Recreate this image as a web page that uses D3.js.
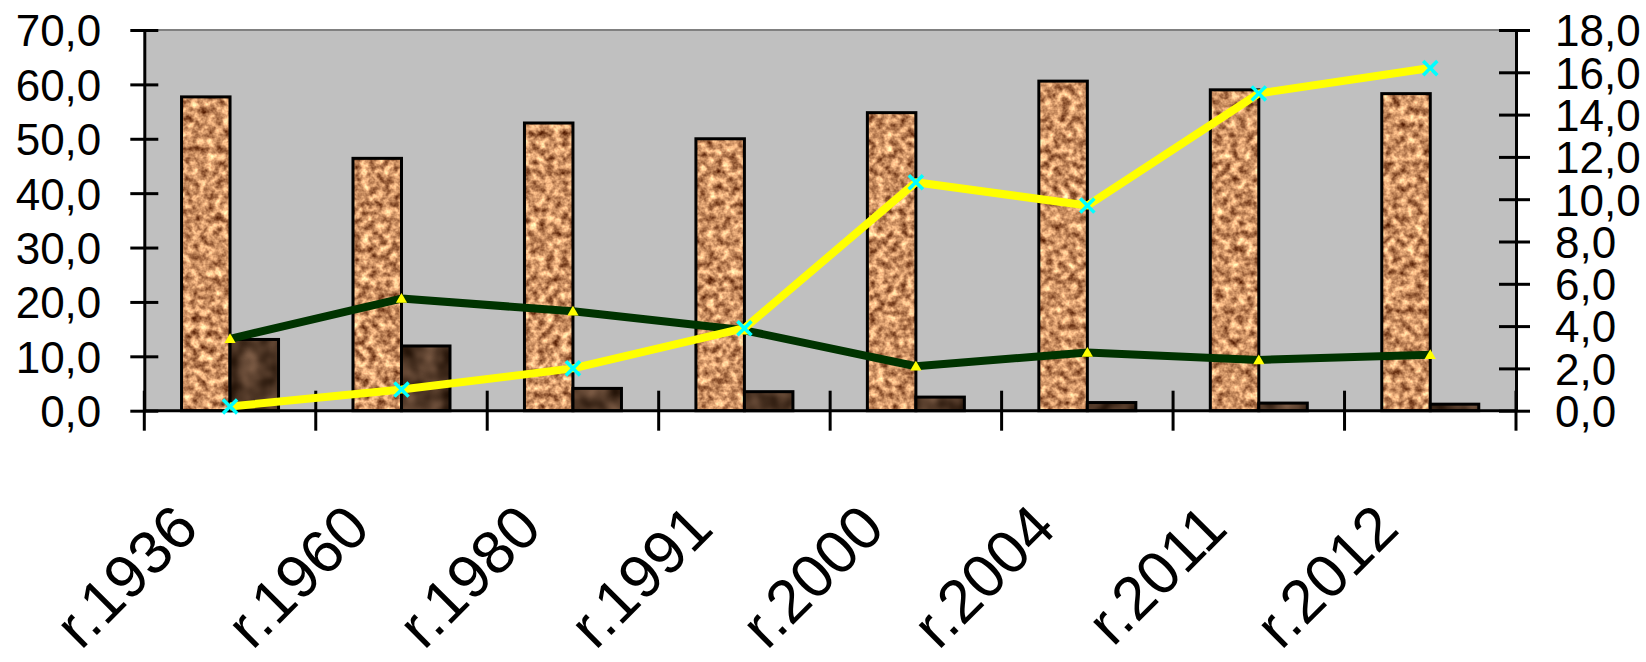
<!DOCTYPE html>
<html>
<head>
<meta charset="utf-8">
<script src="https://cdn.jsdelivr.net/npm/d3@7"></script>
<style>
  html, body { margin: 0; padding: 0; background: #ffffff; }
  svg { display: block; }
  text { font-family: "Liberation Sans", Arial, sans-serif; fill: #000; }
</style>
</head>
<body>
<svg id="chart" width="1646" height="662"></svg>
<script>
// Years shown on the category axis
const categories = ["r.1936", "r.1960", "r.1980", "r.1991", "r.2000", "r.2004", "r.2011", "r.2012"];
// Column series (left axis)
const barsLight = [57.7, 46.4, 52.9, 50.0, 54.8, 60.6, 59.0, 58.3];
const barsDark = [13.1, 11.9, 4.1, 3.5, 2.5, 1.5, 1.4, 1.2];
// Line series (right axis)
const lineGreen = [3.4, 5.3, 4.7, 3.8, 2.1, 2.75, 2.4, 2.65];
const lineYellow = [0.2, 1.0, 2.0, 3.9, 10.8, 9.7, 15.0, 16.2];
// Axis tick values
const leftTicks = [0, 10, 20, 30, 40, 50, 60, 70];
const rightTicks = [0, 2, 4, 6, 8, 10, 12, 14, 16, 18];

const plot = { left: 144.3, right: 1516, top: 30, bottom: 410.7 };

const svg = d3.select("#chart");
const fmt = d3.formatLocale({ decimal: ",", thousands: " ", grouping: [3], currency: ["", ""] }).format(".1f");

// ---- textures for the columns ----
const defs = svg.append("defs");
function texture(id, freq, octaves, seed, matrix) {
  const f = defs.append("filter").attr("id", id)
    .attr("x", "0").attr("y", "0").attr("width", "1").attr("height", "1")
    .attr("color-interpolation-filters", "sRGB");
  f.append("feTurbulence").attr("type", "fractalNoise")
    .attr("baseFrequency", freq).attr("numOctaves", octaves).attr("seed", seed).attr("result", "n");
  f.append("feColorMatrix").attr("in", "n").attr("type", "matrix").attr("values", matrix).attr("result", "c");
  f.append("feComposite").attr("in", "c").attr("in2", "SourceGraphic").attr("operator", "in");
}
texture("cork", 0.13, 3, 7,
  "1.25 0 0 0 0.18  1.2 0 0 0 -0.03  1.0 0 0 0 -0.11  0 0 0 0 1");
texture("bark", 0.05, 2, 3,
  "0.55 0 0 0 0.03  0.45 0 0 0 -0.015  0.38 0 0 0 -0.045  0 0 0 0 1");

// ---- scales ----
const x = d3.scaleBand().domain(categories).range([plot.left, plot.right]).padding(0);
const bw = x.bandwidth();
const groupW = 97;
const xs = d3.scaleBand().domain(["light", "dark"]).range([0, groupW]);
const yL = d3.scaleLinear().domain([0, 70]).range([plot.bottom, plot.top]);
const yR = d3.scaleLinear().domain([0, 18]).range([plot.bottom, plot.top]);
const cx = c => x(c) + bw / 2;

// ---- plot area ----
svg.append("rect")
  .attr("x", plot.left).attr("y", plot.top)
  .attr("width", plot.right - plot.left).attr("height", plot.bottom - plot.top)
  .attr("fill", "#c0c0c0");
svg.append("line")
  .attr("x1", plot.left).attr("x2", plot.right)
  .attr("y1", plot.top).attr("y2", plot.top)
  .attr("stroke", "#808080").attr("stroke-width", 2);

// ---- columns ----
const series = [
  { key: "light", values: barsLight, filter: "url(#cork)" },
  { key: "dark", values: barsDark, filter: "url(#bark)" }
];
const barG = svg.append("g");
series.forEach(s => {
  const g = barG.append("g");
  const rows = categories.map((c, i) => ({ c, v: s.values[i] }));
  g.selectAll("rect.fill").data(rows).join("rect")
    .attr("class", "fill")
    .attr("x", d => cx(d.c) - groupW / 2 + xs(s.key))
    .attr("y", d => yL(d.v))
    .attr("width", xs.bandwidth())
    .attr("height", d => yL(0) - yL(d.v))
    .attr("fill", "#c8905e")
    .attr("filter", s.filter);
  g.selectAll("rect.edge").data(rows).join("rect")
    .attr("class", "edge")
    .attr("x", d => cx(d.c) - groupW / 2 + xs(s.key))
    .attr("y", d => yL(d.v))
    .attr("width", xs.bandwidth())
    .attr("height", d => yL(0) - yL(d.v))
    .attr("fill", "none")
    .attr("stroke", "#000").attr("stroke-width", 3)
    .attr("stroke-linejoin", "miter");
});

// ---- axes ----
const axisL = svg.append("g").attr("transform", `translate(${plot.left},0)`)
  .call(d3.axisLeft(yL).tickValues(leftTicks).tickFormat(fmt).tickSize(14).tickSizeOuter(0).tickPadding(29));
const axisR = svg.append("g").attr("transform", `translate(${plot.right},0)`)
  .call(d3.axisRight(yR).tickValues(rightTicks).tickFormat(fmt).tickSize(14).tickSizeOuter(0).tickPadding(25));
[axisL, axisR].forEach(a => {
  a.select(".domain").attr("stroke", "#000").attr("stroke-width", 3);
  a.selectAll(".tick line").attr("stroke", "#000").attr("stroke-width", 3);
  a.selectAll(".tick text").attr("font-size", 44).attr("dy", "0.36em")
    .style("font-family", "'Liberation Sans', Arial, sans-serif").attr("fill", "#000");
});
axisL.selectAll(".tick line").attr("x1", 14);
axisR.selectAll(".tick line").attr("x1", -17);

// category axis: baseline, boundary ticks, rotated labels
svg.append("line")
  .attr("x1", plot.left).attr("x2", plot.right)
  .attr("y1", yL(0)).attr("y2", yL(0))
  .attr("stroke", "#000").attr("stroke-width", 3);
const bounds = categories.map(c => x(c)).concat([plot.right]);
svg.append("g").selectAll("line").data(bounds).join("line")
  .attr("x1", d => d).attr("x2", d => d)
  .attr("y1", yL(0) - 20).attr("y2", yL(0) + 20)
  .attr("stroke", "#000").attr("stroke-width", 3);
svg.append("g").selectAll("text").data(categories).join("text")
  .attr("transform", c => `translate(${cx(c) - 29},531) rotate(-45)`)
  .attr("text-anchor", "end")
  .attr("font-size", 61)
  .text(c => c);

// ---- lines (right axis) ----
const line = d3.line().x((d, i) => cx(categories[i])).y(d => yR(d));
svg.append("path").datum(lineGreen)
  .attr("d", line).attr("fill", "none")
  .attr("stroke", "#003300").attr("stroke-width", 8).attr("stroke-linejoin", "round");
svg.append("g").selectAll("path").data(lineGreen).join("path")
  .attr("transform", (d, i) => `translate(${cx(categories[i])},${yR(d) + 1})`)
  .attr("d", d3.symbol(d3.symbolTriangle, 55))
  .attr("fill", "#ffff00");

svg.append("path").datum(lineYellow)
  .attr("d", line).attr("fill", "none")
  .attr("stroke", "#ffff00").attr("stroke-width", 8).attr("stroke-linejoin", "round");
svg.append("g").selectAll("path").data(lineYellow).join("path")
  .attr("transform", (d, i) => `translate(${cx(categories[i])},${yR(d)}) rotate(45)`)
  .attr("d", "M-10,0H10M0,-10V10")
  .attr("fill", "none")
  .attr("stroke", "#00ffff").attr("stroke-width", 3.5);
</script>
</body>
</html>
